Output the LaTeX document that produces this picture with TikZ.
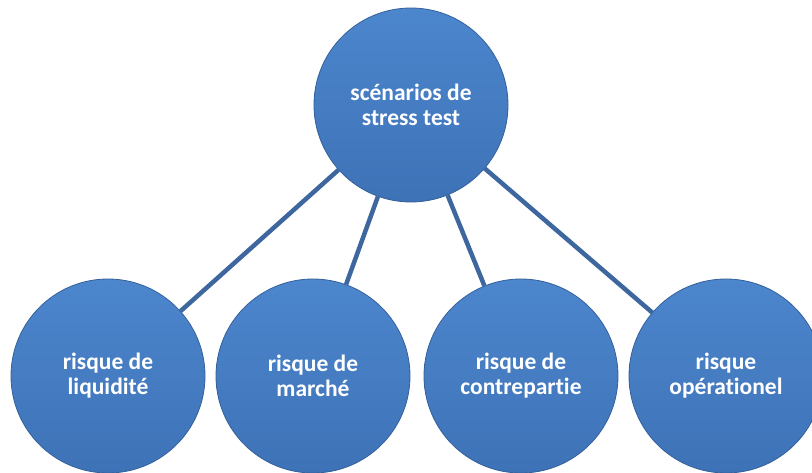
\documentclass[tikz,border=0pt]{standalone}
\usepackage{fontspec}
\setmainfont{Carlito}[Ligatures={NoCommon,NoRequired,NoContextual}]
\begin{document}
\begin{tikzpicture}[x=1pt,y=-1pt,
  bubble/.style={circle,minimum size=194pt,inner sep=0pt,
    top color=fillTop,bottom color=fillBot,draw=rimCol,line width=0.8pt,
    text=white,align=center,
    font=\fontsize{23.5}{25}\selectfont\bfseries},
  link/.style={draw=lineCol,line width=4.5pt}]
\definecolor{fillTop}{HTML}{4C86CD}
\definecolor{fillBot}{HTML}{3E72B7}
\definecolor{rimCol}{HTML}{34619A}
\definecolor{lineCol}{HTML}{3D679E}
\useasboundingbox (0,0) rectangle (812,473);
\clip (0,0) rectangle (812,473);
\node[bubble] (top) at (411,105) {scénarios de\\stress test};
\node[bubble] (b1) at (108,376) {risque de\\liquidité};
\node[bubble] (b2) at (313,376) {risque de\\marché};
\node[bubble] (b3) at (521,376) {risque de\\contrepartie};
\node[bubble] (b4) at (726,376) {risque\\opérationel};
\draw[link] (top) -- (b1);
\draw[link] (top) -- (b2);
\draw[link] (top) -- (b3);
\draw[link] (top) -- (b4);
\end{tikzpicture}
\end{document}
